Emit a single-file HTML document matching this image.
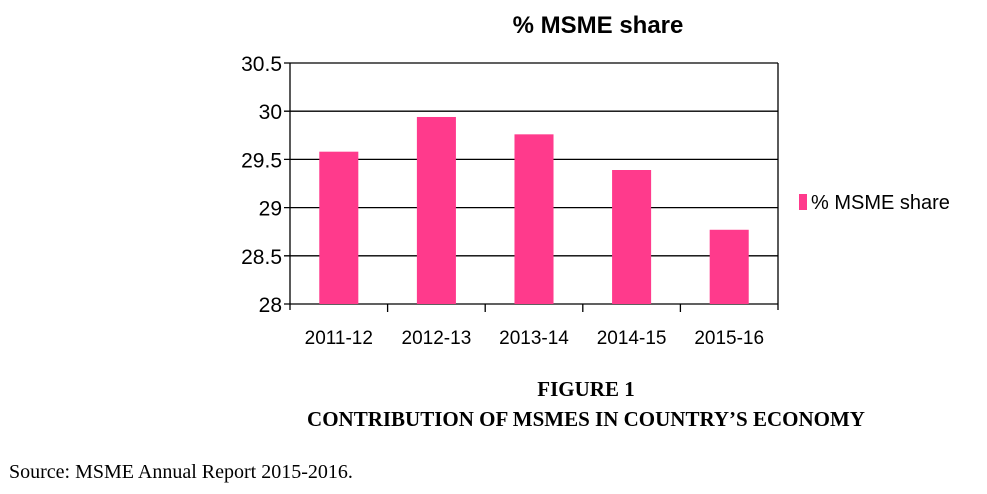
<!DOCTYPE html>
<html><head><meta charset="utf-8"><style>
body{margin:0;background:#fff;width:987px;height:494px;overflow:hidden;position:relative}
.t{position:absolute;white-space:nowrap}
</style></head><body>
<svg width="987" height="494" style="position:absolute;left:0;top:0">
<text x="598" y="33" text-anchor="middle" font-family="Liberation Sans, sans-serif" font-weight="bold" font-size="24">% MSME share</text>
<g id="grid"></g><g id="bars"></g><g id="axes"></g>
<rect x="799" y="194" width="8" height="16" fill="#ff3a8c"/>
<text x="811" y="209" font-family="Liberation Sans, sans-serif" font-size="20">% MSME share</text>
<text x="586" y="396" text-anchor="middle" font-family="Liberation Serif, serif" font-weight="bold" font-size="21">FIGURE 1</text>
<text x="586" y="426" text-anchor="middle" font-family="Liberation Serif, serif" font-weight="bold" font-size="21">CONTRIBUTION OF MSMES IN COUNTRY’S ECONOMY</text>
<text x="9" y="478" font-family="Liberation Serif, serif" font-size="20">Source: MSME Annual Report 2015-2016.</text>
</svg>
<script>
const categories=["2011-12","2012-13","2013-14","2014-15","2015-16"];
const values=[29.58,29.94,29.76,29.39,28.77];
const yTicks=[28,28.5,29,29.5,30,30.5];
const NS="http://www.w3.org/2000/svg";
const L=290,R=778,T=63,B=304,yMin=28,yMax=30.5;
const y=v=>B-(v-yMin)/(yMax-yMin)*(B-T);
const cw=(R-L)/categories.length;
const x=i=>L+i*cw;
function mk(tag,attrs,parent){const e=document.createElementNS(NS,tag);for(const k in attrs)e.setAttribute(k,attrs[k]);document.getElementById(parent).appendChild(e);return e;}
yTicks.forEach(v=>{
 const l=mk('line',{x1:L-6,x2:R,y1:y(v),y2:y(v),stroke:'#000','stroke-width':1.3},'grid');
 
 
 const t=mk('text',{x:L-8,y:y(v)+8,'text-anchor':'end','font-family':'Liberation Sans, sans-serif','font-size':21},'axes');
 t.textContent=v;
 
 
});
values.forEach((v,i)=>{
 const r=mk('rect',{x:x(i)+cw*0.3,y:y(v),width:cw*0.4,height:B-y(v),fill:'#ff3a8c'},'bars');
 
 
});
const ax=mk('line',{x1:L,x2:L,y1:T,y2:B+6,stroke:'#000','stroke-width':1.3},'axes');


const ar=mk('line',{x1:R,x2:R,y1:T,y2:B+6,stroke:'#000','stroke-width':1.3},'axes');


categories.forEach((c,i)=>{
 if(i>0){const tk=mk('line',{x1:x(i),x2:x(i),y1:B,y2:B+8,stroke:'#000','stroke-width':1.3},'axes');
 
 }
 const t=mk('text',{x:x(i)+cw/2,y:344,'text-anchor':'middle','font-family':'Liberation Sans, sans-serif','font-size':19},'axes');
 t.textContent=c;
 
 
});
</script>
</body></html>
